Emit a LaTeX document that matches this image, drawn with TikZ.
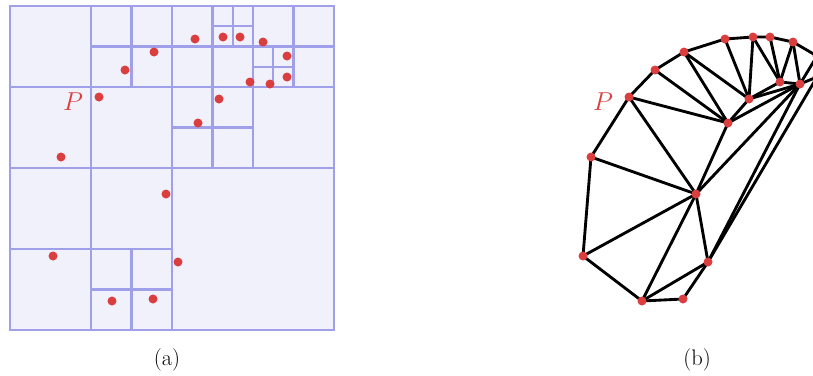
\documentclass[tikz,border=0pt]{standalone}
\definecolor{qline}{RGB}{160,160,234}
\definecolor{qfill}{RGB}{241,241,252}
\definecolor{ptred}{RGB}{219,62,62}
\begin{document}
\begin{tikzpicture}[x={(0.6667pt,0)}, y={(0,-0.6667pt)},
  dot/.style={circle, fill=ptred, inner sep=0pt, minimum size=6pt},
  qedge/.style={draw=qline, line width=1.4pt},
  tedge/.style={draw=black, line width=1.9pt, line join=round},
  plabel/.style={text=ptred, font=\LARGE},
  caption/.style={anchor=base, font=\fontsize{15}{18}\selectfont}]
\useasboundingbox (0,0) rectangle (813,375);
% (a) quadtree
\begin{scope}[shift={(10,330)}, x={(13.5pt,0)}, y={(0,13.5pt)}]
  \fill[qfill] (0,0) rectangle (16,16);
  \draw[qedge] (0,0) rectangle (16,16);
  \draw[qedge] (8,0)--(8,16) (0,8)--(16,8)
    (4,8)--(4,16) (0,12)--(8,12)
    (12,8)--(12,16) (8,12)--(16,12)
    (4,0)--(4,8) (0,4)--(8,4)
    (6,12)--(6,16) (4,14)--(8,14)
    (10,12)--(10,16) (8,14)--(12,14)
    (11,14)--(11,16) (10,15)--(12,15)
    (14,12)--(14,16) (12,14)--(16,14)
    (13,12)--(13,14) (12,13)--(14,13)
    (10,8)--(10,12) (8,10)--(12,10)
    (6,0)--(6,4) (4,2)--(8,2);
\end{scope}
\def\ptlist{A/195/39, B/223/37, C/240/37, D/263/42, E/154/52, F/287/56,
  G/125/70, H/287/77, I/250/82, J/270/84, P/99/97, K/219/99, L/198/123,
  M/61/157, N/166/194, O/53/256, Q/178/262, R/112/301, S/153/299}
\foreach \n/\px/\py in \ptlist {\node[dot] (a\n) at (\px,\py) {};}
\node[plabel] (pa) at (73,102) {$P$};
\node[caption] (capa) at (167,365) {(a)};
% (b) triangulation
\foreach \n/\px/\py in \ptlist {\coordinate (b\n) at (\px+530,\py);}
\draw[tedge] (bO)--(bM)--(bP)--(bG)--(bE)--(bA)--(bB)--(bC)--(bD)--(bF)--(bH)--(bQ)--(bS)--(bR)--cycle;
\foreach \u/\v in {P/L, P/N, G/L, E/L, E/K, A/K, B/K, B/I, C/I, D/I, D/J,
  K/L, K/I, K/J, L/J, N/J, L/N, M/N, O/N, R/N, R/Q, N/Q, I/J, J/F, Q/J, J/H}
  {\draw[tedge] (b\u)--(b\v);}
\foreach \n/\px/\py in \ptlist {\node[dot] (d\n) at (b\n) {};}
\node[plabel] (pb) at (603,102) {$P$};
\node[caption] (capb) at (697,365) {(b)};
\end{tikzpicture}
\end{document}
